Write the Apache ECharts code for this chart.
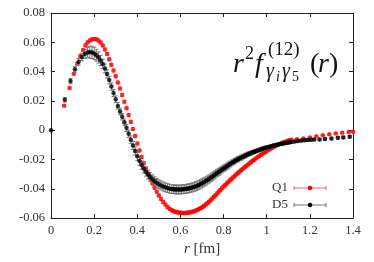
<!DOCTYPE html>
<html><head><meta charset="utf-8">
<script src="https://cdn.jsdelivr.net/npm/echarts@6/dist/echarts.min.js"></script>
<style>html,body{margin:0;padding:0;background:#fff}#c{width:374px;height:262px}</style>
</head><body><div id="c"></div>
<script>
// ---- data ----
const xTickLabels = ['0','0.2','0.4','0.6','0.8','1','1.2','1.4'];
const yTickLabels = ['-0.06','-0.04','-0.02','0','0.02','0.04','0.06','0.08'];

const q1R = [0.061,0.086,0.106,0.122,0.136,0.149,
 0.16,0.17,0.18,0.19,0.20,0.21,0.22,0.23,0.24,0.25,0.26,0.27,0.28,0.29,0.30,0.31,0.32,0.33,0.34,0.35,0.36,0.37,0.38,0.39,0.40,0.41,0.42,0.43,0.44,0.45,0.46,0.47,0.48,0.49,0.50,0.51,0.52,0.53,0.54,0.55,
 0.56,0.5675,0.575,0.5825,0.59,0.5975,0.605,0.6125,0.62,0.6275,0.635,0.6425,0.65,0.6575,0.665,0.6725,0.68,0.6875,0.695,0.7025,0.71,0.7175,0.725,0.7325,0.74,0.7475,0.755,0.7625,0.77,0.7775,0.785,0.7925,0.80,0.8075,0.815,0.8225,0.83,0.8375,0.845,0.8525,0.86,0.8675,0.875,0.8825,0.89,0.8975,0.905,0.9125,0.92,0.9275,0.935,0.9425,0.95,0.9575,0.965,0.9725,0.98,0.9875,0.995,1.0025,1.01,1.0175,1.025,1.0325,1.04,1.0475,1.055,1.0625,1.07,1.0775,1.085,1.0925,1.10,1.1075,1.115,
 1.14,1.17,1.20,1.23,1.26,1.29,1.32,1.35,1.38,1.40];
const q1V = [0.0167,0.0288,0.0385,0.0453,0.0506,0.0548,
 0.0580,0.0600,0.0613,0.0620,0.0623,0.0621,0.0613,0.0599,0.0578,0.0551,0.0520,0.0484,0.0447,0.0408,0.0368,0.0326,0.0284,0.0240,0.0195,0.0150,0.0104,0.0057,0.0009,-0.0040,-0.0090,-0.0138,-0.0183,-0.0225,-0.0262,-0.0297,-0.0330,-0.0362,-0.0392,-0.0420,-0.0446,-0.0470,-0.0490,-0.0508,-0.0524,-0.0537,
 -0.0547,-0.0552,-0.0556,-0.0559,-0.0561,-0.0563,-0.0564,-0.0565,-0.0565,-0.0564,-0.0563,-0.0561,-0.0559,-0.0556,-0.0552,-0.0548,-0.0543,-0.0537,-0.0531,-0.0524,-0.0516,-0.0507,-0.0498,-0.0488,-0.0478,-0.0467,-0.0455,-0.0444,-0.0432,-0.0420,-0.0408,-0.0396,-0.0385,-0.0374,-0.0363,-0.0352,-0.0342,-0.0331,-0.0321,-0.0311,-0.0301,-0.0291,-0.0282,-0.0272,-0.0263,-0.0253,-0.0244,-0.0235,-0.0226,-0.0217,-0.0209,-0.0201,-0.0193,-0.0185,-0.0177,-0.0169,-0.0162,-0.0155,-0.0148,-0.0141,-0.0134,-0.0127,-0.0121,-0.0115,-0.0109,-0.0103,-0.0098,-0.0093,-0.0088,-0.0083,-0.0079,-0.0075,-0.0071,-0.0068,-0.0065,
 -0.0062,-0.0056,-0.0049,-0.0042,-0.0034,-0.0028,-0.0022,-0.0017,-0.0013,-0.0011];
const q1E = [0.0008,0.0008,0.0008,0.0008,0.0008,0.0008,
 0.001,0.001,0.001,0.001,0.001,0.001,0.001,0.001,0.001,0.001,0.001,0.001,0.001,0.001,0.001,0.001,0.001,0.001,0.001,0.001,0.001,0.001,0.001,0.001,0.001,0.001,0.001,0.001,0.001,0.001,0.001,0.001,0.001,0.001,0.001,0.001,0.001,0.001,0.001,0.001,
 0.001,0.001,0.001,0.001,0.001,0.001,0.001,0.001,0.001,0.001,0.001,0.001,0.001,0.001,0.001,0.001,0.001,0.001,0.001,0.001,0.001,0.001,0.001,0.001,0.001,0.001,0.001,0.001,0.001,0.001,0.001,0.001,0.001,0.001,0.001,0.001,0.001,0.001,0.001,0.001,0.001,0.001,0.001,0.0008,0.0008,0.0008,0.0008,0.0008,0.0008,0.0008,0.0008,0.0008,0.0008,0.0008,0.0008,0.0008,0.0008,0.0008,0.0008,0.0006,0.0006,0.0006,0.0006,0.0006,0.0006,0.0006,0.0006,0.0006,0.0006,0.0006,0.0006,0.0006,0.0006,0.0006,0.0006,
 0.0005,0.0005,0.0005,0.0005,0.0005,0.0005,0.0005,0.0005,0.0005,0.0005];

const d5R = [0.0,0.064,0.0905,0.111,0.128,0.143,
 0.157,0.17,0.18,0.19,0.20,0.21,0.22,0.23,0.24,0.25,0.26,0.27,0.28,0.29,0.30,0.31,0.32,0.33,0.34,0.35,0.36,0.37,0.38,0.39,0.40,0.41,0.42,0.43,0.44,0.45,0.46,0.47,0.48,0.49,0.50,0.51,0.52,0.53,0.54,0.55,
 0.56,0.5675,0.575,0.5825,0.59,0.5975,0.605,0.6125,0.62,0.6275,0.635,0.6425,0.65,0.6575,0.665,0.6725,0.68,0.6875,0.695,0.7025,0.71,0.7175,0.725,0.7325,0.74,0.7475,0.755,0.7625,0.77,0.7775,0.785,0.7925,0.80,0.8075,0.815,0.8225,0.83,0.8375,0.845,0.8525,0.86,0.8675,0.875,0.8825,0.89,0.8975,0.905,0.9125,0.92,0.9275,0.935,0.9425,0.95,0.9575,0.965,0.9725,0.98,0.9875,0.995,1.0025,1.01,1.0175,1.025,1.0325,1.04,1.0475,1.055,1.0625,1.07,1.0775,1.085,1.0925,1.10,1.1075,1.115,
 1.13,1.145,1.16,1.175,1.19,1.205,1.22,
 1.245,1.27,1.30,1.33,1.355,1.385];
const d5V = [0.0,0.0207,0.0335,0.0416,0.0467,0.0500,
 0.0520,0.0530,0.0533,0.0531,0.0524,0.0512,0.0496,0.0476,0.0452,0.0422,0.0384,0.0342,0.0298,0.0254,0.0211,0.0166,0.0128,0.0092,0.0054,0.0016,-0.0024,-0.0065,-0.0104,-0.0142,-0.0178,-0.0210,-0.0238,-0.0262,-0.0284,-0.0303,-0.0320,-0.0335,-0.0348,-0.0359,-0.0369,-0.0377,-0.0384,-0.0390,-0.0395,-0.0399,
 -0.0402,-0.0403,-0.0404,-0.0405,-0.0405,-0.0405,-0.0404,-0.0403,-0.0402,-0.0400,-0.0398,-0.0396,-0.0393,-0.0390,-0.0386,-0.0382,-0.0377,-0.0372,-0.0366,-0.0360,-0.0354,-0.0347,-0.0340,-0.0333,-0.0325,-0.0317,-0.0309,-0.0301,-0.0293,-0.0285,-0.0277,-0.0269,-0.0261,-0.0254,-0.0246,-0.0239,-0.0231,-0.0224,-0.0217,-0.0211,-0.0204,-0.0198,-0.0192,-0.0187,-0.0181,-0.0176,-0.0170,-0.0165,-0.0160,-0.0156,-0.0151,-0.0147,-0.0143,-0.0139,-0.0135,-0.0131,-0.0127,-0.0124,-0.0120,-0.0117,-0.0114,-0.0111,-0.0108,-0.0105,-0.0102,-0.0100,-0.0097,-0.0095,-0.0092,-0.0090,-0.0088,-0.0086,-0.0084,-0.0082,-0.0080,
 -0.0077,-0.0074,-0.0071,-0.0069,-0.0067,-0.0065,-0.0064,
 -0.0064,-0.0060,-0.0057,-0.0052,-0.0049,-0.0044];
const d5E = [0.0,0.0015,0.0018,0.002,0.0022,0.0025,
 0.003,0.0035,0.004,0.0042,0.0042,0.004,0.0038,0.0035,0.0032,0.003,0.0028,0.0026,0.0025,0.0024,0.0023,0.0022,0.0022,0.0022,0.0023,0.0024,0.0025,0.0026,0.0027,0.0028,0.0028,0.0029,0.0029,0.003,0.003,0.003,0.003,0.003,0.003,0.003,0.003,0.003,0.003,0.003,0.003,0.003,
 0.003,0.003,0.003,0.003,0.003,0.003,0.003,0.003,0.003,0.003,0.003,0.003,0.003,0.003,0.003,0.003,0.003,0.003,0.0029,0.0029,0.0028,0.0028,0.0027,0.0027,0.0026,0.0026,0.0025,0.0025,0.0024,0.0024,0.0023,0.0023,0.0022,0.0022,0.0021,0.0021,0.002,0.002,0.0019,0.0019,0.0018,0.0018,0.0017,0.0017,0.0016,0.0016,0.0015,0.0015,0.0014,0.0014,0.0013,0.0013,0.0012,0.0012,0.0012,0.0012,0.0011,0.0011,0.0011,0.0011,0.001,0.001,0.001,0.001,0.001,0.001,0.0009,0.0009,0.0009,0.0009,0.0009,0.0009,0.0008,0.0008,0.0008,0.0008,0.0008,
 0.0008,0.0008,0.0008,0.0008,0.0008,0.0008,0.0008,
 0.0008,0.0008,0.0008,0.0008,0.0008,0.0008];

// ---- build ----
function triples(r, v, e){ return r.map((x,i)=>[x, v[i], e[i]]); }
const q1Data = triples(q1R, q1V, q1E);
const d5Data = triples(d5R, d5V, d5E);

function errRenderer(color){
  return function(params, api){
    const x = api.value(0), y = api.value(1), e = api.value(2);
    if (!e) return null;
    const lo = api.coord([x, y - e]), hi = api.coord([x, y + e]);
    const w = 2;
    const st = {stroke: color, lineWidth: 1};
    return {type:'group', children:[
      {type:'line', shape:{x1:lo[0], y1:lo[1], x2:hi[0], y2:hi[1]}, style:st},
      {type:'line', shape:{x1:lo[0]-w, y1:lo[1], x2:lo[0]+w, y2:lo[1]}, style:st},
      {type:'line', shape:{x1:hi[0]-w, y1:hi[1], x2:hi[0]+w, y2:hi[1]}, style:st}
    ]};
  };
}

const FONT = 'Liberation Serif';
const axisCol = '#222';
function xFmt(v){ const i = Math.round(v/0.2); return xTickLabels[i] ?? ''; }
function yFmt(v){ const i = Math.round((v+0.06)/0.02); return yTickLabels[i] ?? ''; }
function t(text, left, top, size, italic){
  return {type:'text', left:left, top:top, style:{text:text, fontFamily:FONT, fontSize:size, fontStyle: italic ? 'italic' : 'normal', fill:'#111'}};
}

const chart = echarts.init(document.getElementById('c'), null, {renderer:'canvas'});
const baseAxis = {
  axisLine:{show:true, onZero:false, lineStyle:{color:axisCol, width:1}},
  axisTick:{show:true, inside:true, length:4, lineStyle:{color:axisCol}},
  splitLine:{show:false}
};
chart.setOption({
  animation:false,
  backgroundColor:'#fff',
  grid:{left:51, right:21, top:13, bottom:37, containLabel:false},
  xAxis:[
    Object.assign({}, baseAxis, {type:'value', min:0, max:1.4, interval:0.2, position:'bottom',
      axisLabel:{formatter:xFmt, fontFamily:FONT, fontSize:12.5, color:'#333', margin:6},
      name:'{i|r} [fm]', nameLocation:'middle', nameGap:20,
      nameTextStyle:{fontFamily:FONT, fontSize:15, color:'#333', verticalAlign:'top',
        rich:{i:{fontFamily:FONT, fontStyle:'italic', fontSize:15, color:'#333'}}}}),
    Object.assign({}, baseAxis, {type:'value', min:0, max:1.4, interval:0.2, position:'top',
      axisLabel:{show:false}})
  ],
  yAxis:[
    Object.assign({}, baseAxis, {type:'value', min:-0.06, max:0.08, interval:0.02, position:'left',
      axisLabel:{formatter:yFmt, fontFamily:FONT, fontSize:12.5, color:'#333', margin:6}}),
    Object.assign({}, baseAxis, {type:'value', min:-0.06, max:0.08, interval:0.02, position:'right',
      axisLabel:{show:false}})
  ],
  series:[
    {type:'custom', name:'Q1err', data:q1Data, renderItem:errRenderer('#ff8080'), encode:{x:0,y:1}, z:1, clip:false},
    {type:'scatter', name:'Q1', data:q1Data, symbol:'circle', symbolSize:4.5, itemStyle:{color:'#ff0000'}, z:2, clip:false},
    {type:'custom', name:'D5err', data:d5Data, renderItem:errRenderer('#777777'), encode:{x:0,y:1}, z:3, clip:false},
    {type:'scatter', name:'D5', data:d5Data, symbol:'circle', symbolSize:4.5, itemStyle:{color:'#000000'}, z:4, clip:false}
  ],
  graphic:[
    // formula label r^2 f^{(12)}_{gamma_i gamma_5}(r)
    t('r', 233, 51, 28, true),
    t('2', 245, 45, 18, false),
    t('f', 255, 51, 28, true),
    t('(12)', 268, 41, 19, false),
    t('γ', 266, 62, 20, true),
    t('i', 276, 70, 14, true),
    t('γ', 282, 62, 20, true),
    t('5', 292, 70, 14, false),
    t('(', 310, 51, 28, false),
    t('r', 318, 51, 28, true),
    t(')', 329, 51, 28, false),
    // legend
    {type:'text', right:86, top:181, style:{text:'Q1', fontFamily:FONT, fontSize:13, fill:'#333', align:'right'}},
    {type:'line', shape:{x1:294, y1:188, x2:326, y2:188}, style:{stroke:'#ff6060', lineWidth:1}},
    {type:'line', shape:{x1:294, y1:186, x2:294, y2:190}, style:{stroke:'#ff6060', lineWidth:1}},
    {type:'line', shape:{x1:326, y1:186, x2:326, y2:190}, style:{stroke:'#ff6060', lineWidth:1}},
    {type:'circle', shape:{cx:310, cy:188, r:2.3}, style:{fill:'#ff0000'}},
    {type:'text', right:86, top:198, style:{text:'D5', fontFamily:FONT, fontSize:13, fill:'#333', align:'right'}},
    {type:'line', shape:{x1:294, y1:205, x2:326, y2:205}, style:{stroke:'#707070', lineWidth:1}},
    {type:'line', shape:{x1:294, y1:203, x2:294, y2:207}, style:{stroke:'#707070', lineWidth:1}},
    {type:'line', shape:{x1:326, y1:203, x2:326, y2:207}, style:{stroke:'#707070', lineWidth:1}},
    {type:'circle', shape:{cx:310, cy:205, r:2.3}, style:{fill:'#000000'}}
  ]
});
</script>
</body></html>
